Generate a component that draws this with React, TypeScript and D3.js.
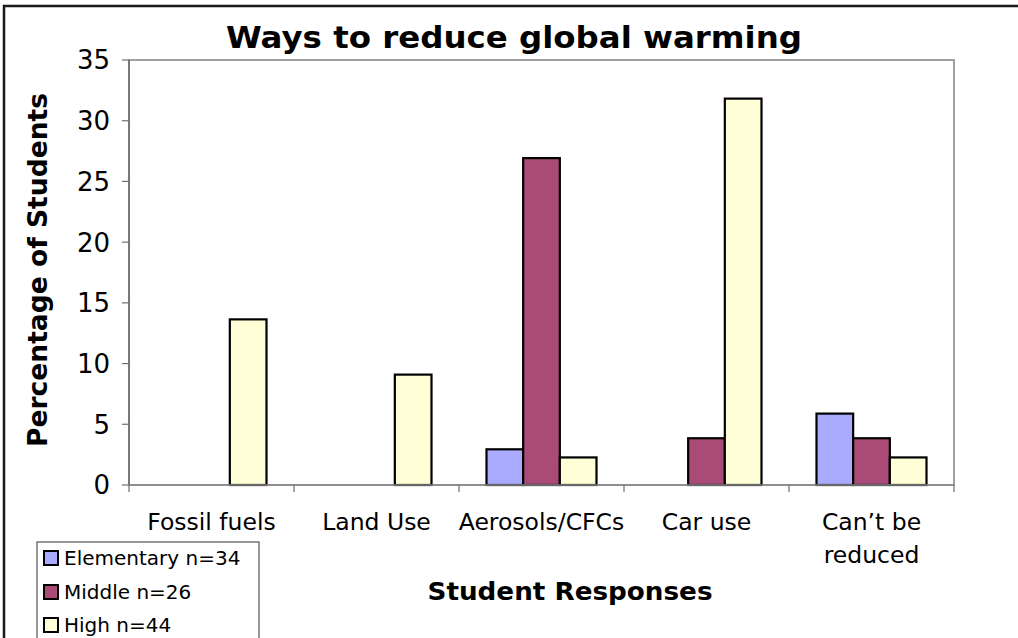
import React, { useEffect, useRef } from "react";
import * as d3 from "d3";

// Share of students (%) naming each way to reduce global warming
const categories = ["Fossil fuels", "Land Use", "Aerosols/CFCs", "Car use", "Can\u2019t be reduced"];
const categoryLines = [["Fossil fuels"], ["Land Use"], ["Aerosols/CFCs"], ["Car use"], ["Can\u2019t be", "reduced"]];
const seriesNames = ["Elementary n=34", "Middle n=26", "High n=44"];
const elementary = [0, 0, 2.94, 0, 5.88];
const middle = [0, 0, 26.92, 3.85, 3.85];
const high = [13.64, 9.09, 2.27, 31.82, 2.27];
const seriesColors = ["#AAAAFF", "#A94A77", "#FFFFD7"];
const yTicks = [0, 5, 10, 15, 20, 25, 30, 35];

const W = 1018;
const H = 638;
const FONT = "'DejaVu Sans', Verdana, sans-serif";

export default function App() {
  const ref = useRef<SVGSVGElement | null>(null);

  useEffect(() => {
    const svg = d3.select(ref.current);
    svg.selectAll("*").remove();

    const left = 129, right = 954, top = 60, bottom = 485;
    const values = [elementary, middle, high];

    const x = d3.scaleBand<string>().domain(categories).range([left, right]).padding(0);
    const bw = x.bandwidth();
    const groupW = (bw * 3) / 4.5;
    const xs = d3
      .scaleBand<string>()
      .domain(seriesNames)
      .range([(bw - groupW) / 2, (bw + groupW) / 2])
      .padding(0);
    const y = d3.scaleLinear().domain([0, 35]).range([bottom, top]);

    // outer chart frame (top and left edges)
    svg.append("path")
      .attr("d", `M4,${H + 5} L4,6 L${W + 5},6`)
      .attr("fill", "none")
      .attr("stroke", "#1a1a1a")
      .attr("stroke-width", 2.5);

    // plot area frame
    svg.append("rect")
      .attr("x", left).attr("y", top)
      .attr("width", right - left).attr("height", bottom - top)
      .attr("fill", "#fff")
      .attr("stroke", "#A0A0A0")
      .attr("stroke-width", 2);

    // bars
    values.forEach((vals, si) => {
      svg.append("g")
        .selectAll("rect")
        .data(categories.map((c, i) => ({ c, v: vals[i] })).filter((d) => d.v > 0))
        .join("rect")
        .attr("x", (d) => (x(d.c) as number) + (xs(seriesNames[si]) as number))
        .attr("y", (d) => y(d.v))
        .attr("width", xs.bandwidth())
        .attr("height", (d) => bottom - y(d.v))
        .attr("fill", seriesColors[si])
        .attr("stroke", "#000")
        .attr("stroke-width", 2.2);
    });

    // y axis
    svg.append("line")
      .attr("x1", left).attr("x2", left).attr("y1", top).attr("y2", bottom)
      .attr("stroke", "#6e6e6e").attr("stroke-width", 1.6);
    const yAxis = svg.append("g");
    yTicks.forEach((t) => {
      yAxis.append("line")
        .attr("x1", left - 7).attr("x2", left).attr("y1", y(t)).attr("y2", y(t))
        .attr("stroke", "#6e6e6e").attr("stroke-width", 1.2);
      yAxis.append("text")
        .attr("x", left - 19).attr("y", y(t))
        .attr("dy", "0.36em")
        .attr("text-anchor", "end")
        .attr("font-family", FONT).attr("font-size", 26)
        .text(t);
    });

    // x axis
    svg.append("line")
      .attr("x1", left).attr("x2", right).attr("y1", bottom).attr("y2", bottom)
      .attr("stroke", "#8a8a8a").attr("stroke-width", 1.6);
    const xAxis = svg.append("g");
    [...categories.map((c) => x(c) as number), right].forEach((px) => {
      xAxis.append("line")
        .attr("x1", px).attr("x2", px).attr("y1", bottom).attr("y2", bottom + 7)
        .attr("stroke", "#6e6e6e").attr("stroke-width", 1.2);
    });
    categories.forEach((c, i) => {
      const t = xAxis.append("text")
        .attr("text-anchor", "middle")
        .attr("font-family", FONT).attr("font-size", 23.5);
      categoryLines[i].forEach((line, k) => {
        t.append("tspan")
          .attr("x", (x(c) as number) + bw / 2)
          .attr("y", 530 + k * 33)
          .text(line);
      });
    });

    // titles
    svg.append("text")
      .attr("x", 514).attr("y", 48)
      .attr("text-anchor", "middle")
      .attr("font-family", FONT).attr("font-weight", "bold").attr("font-size", 31)
      .attr("textLength", 576).attr("lengthAdjust", "spacingAndGlyphs")
      .text("Ways to reduce global warming");
    svg.append("text")
      .attr("transform", `translate(47,${270}) rotate(-90)`)
      .attr("text-anchor", "middle")
      .attr("font-family", FONT).attr("font-weight", "bold").attr("font-size", 26)
      .attr("textLength", 354).attr("lengthAdjust", "spacingAndGlyphs")
      .text("Percentage of Students");
    svg.append("text")
      .attr("x", 570).attr("y", 600)
      .attr("text-anchor", "middle")
      .attr("font-family", FONT).attr("font-weight", "bold").attr("font-size", 25)
      .attr("textLength", 285).attr("lengthAdjust", "spacingAndGlyphs")
      .text("Student Responses");

    // legend
    const lg = svg.append("g");
    lg.append("rect")
      .attr("x", 37).attr("y", 542).attr("width", 222).attr("height", 110)
      .attr("fill", "#fff").attr("stroke", "#555").attr("stroke-width", 1.2);
    const rowY = [558, 592, 625];
    seriesNames.forEach((name, i) => {
      lg.append("rect")
        .attr("x", 44).attr("y", rowY[i] - 7).attr("width", 14).attr("height", 14)
        .attr("fill", seriesColors[i]).attr("stroke", "#000").attr("stroke-width", 2);
      lg.append("text")
        .attr("x", 64).attr("y", rowY[i])
        .attr("dy", "0.36em")
        .attr("font-family", FONT).attr("font-size", 20)
        .text(name);
    });
  }, []);

  return (
    <svg
      ref={ref}
      width={W}
      height={H}
      style={{ position: "fixed", left: 0, top: 0, background: "#fff" }}
    />
  );
}
